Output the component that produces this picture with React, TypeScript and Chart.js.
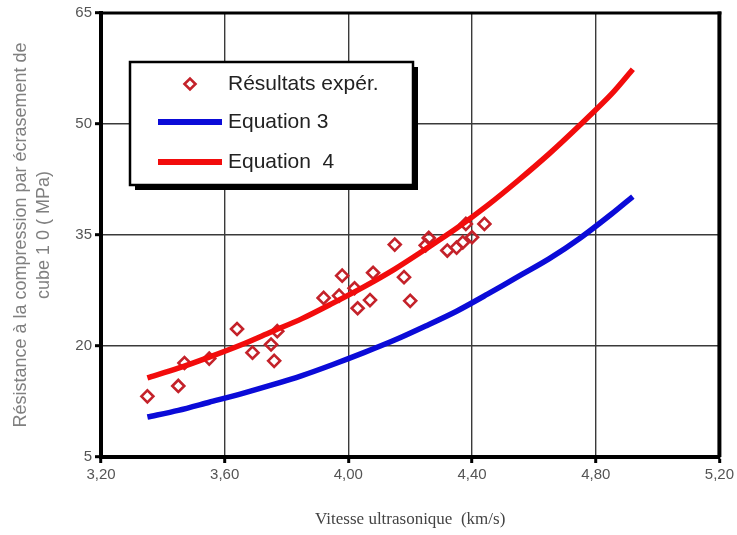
import { useEffect, useRef } from 'react';
import { Chart, registerables } from 'chart.js';

Chart.register(...registerables);

// Experimental results (km/s, MPa)
const expX = [3.35, 3.45, 3.47, 3.55, 3.64, 3.69, 3.76, 3.75, 3.77, 3.92, 3.97, 3.98, 4.02, 4.03, 4.07, 4.08, 4.15, 4.18, 4.2, 4.25, 4.26, 4.32, 4.35, 4.37, 4.4, 4.38, 4.44];
const expY = [13.2, 14.6, 17.7, 18.3, 22.3, 19.1, 18.0, 20.2, 22.0, 26.5, 26.8, 29.5, 27.8, 25.1, 26.2, 29.9, 33.7, 29.3, 26.1, 33.6, 34.6, 32.9, 33.3, 34.0, 34.7, 36.5, 36.5];

// Fitted curves
const eqX = [3.35, 3.45, 3.55, 3.65, 3.75, 3.85, 3.95, 4.05, 4.15, 4.25, 4.35, 4.45, 4.55, 4.65, 4.75, 4.85, 4.92];
const eq3Y = [10.4, 11.3, 12.4, 13.5, 14.7, 16.0, 17.5, 19.1, 20.8, 22.7, 24.7, 27.0, 29.4, 31.8, 34.6, 37.8, 40.2];
const eq4Y = [15.7, 17.0, 18.5, 20.1, 21.9, 23.7, 25.8, 28.0, 30.4, 33.1, 35.9, 39.0, 42.4, 46.0, 49.9, 54.0, 57.4];

const xTicks = [3.2, 3.6, 4.0, 4.4, 4.8, 5.2];
const yTicks = [5, 20, 35, 50, 65];

const seriesLabels = ['Résultats expér.', 'Equation 3', 'Equation  4'];
const xTitle = 'Vitesse ultrasonique  (km/s)';
const yTitle = ['Résistance à la compression par écrasement de', 'cube 1 0 ( MPa)'];

const framePlugin = {
  id: 'frame',
  beforeDatasetsDraw(chart: any) {
    const { ctx, chartArea } = chart;
    const { left, right, top, bottom } = chartArea;
    ctx.save();
    ctx.strokeStyle = '#000';
    ctx.lineWidth = 3;
    ctx.beginPath();
    ctx.moveTo(left, top);
    ctx.lineTo(right + 2, top);
    ctx.stroke();
    ctx.lineWidth = 4;
    ctx.beginPath();
    ctx.moveTo(right, top - 1.5);
    ctx.lineTo(right, bottom);
    ctx.stroke();
    ctx.restore();
  },
};

const boxLegendPlugin = {
  id: 'boxLegend',
  afterDraw(chart: any) {
    const { ctx, chartArea } = chart;
    const x = chartArea.left + 29;
    const y = chartArea.top + 49;
    const w = 283;
    const h = 123;
    ctx.save();
    ctx.fillStyle = '#000';
    ctx.fillRect(x + 5, y + 5, w, h);
    ctx.fillStyle = '#fff';
    ctx.fillRect(x, y, w, h);
    ctx.lineWidth = 2.5;
    ctx.strokeStyle = '#000';
    ctx.strokeRect(x, y, w, h);
    const rows = [22, 60, 100];
    chart.data.datasets.forEach((ds: any, i: number) => {
      const cy = y + rows[i];
      if (ds.showLine === false) {
        const cx = x + 60;
        const r = 5.5;
        ctx.beginPath();
        ctx.moveTo(cx - r, cy);
        ctx.lineTo(cx, cy - r);
        ctx.lineTo(cx + r, cy);
        ctx.lineTo(cx, cy + r);
        ctx.closePath();
        ctx.lineWidth = 2.6;
        ctx.strokeStyle = ds.borderColor;
        ctx.stroke();
      } else {
        ctx.beginPath();
        ctx.moveTo(x + 28, cy);
        ctx.lineTo(x + 92, cy);
        ctx.lineWidth = 6;
        ctx.strokeStyle = ds.borderColor;
        ctx.stroke();
      }
      ctx.fillStyle = '#222';
      ctx.font = '21px "Liberation Sans", Arial, sans-serif';
      ctx.textBaseline = 'middle';
      ctx.textAlign = 'left';
      ctx.fillText(ds.label, x + 98, cy);
    });
    ctx.restore();
  },
};

export default function App() {
  const canvasRef = useRef<HTMLCanvasElement | null>(null);

  useEffect(() => {
    document.body.style.margin = '0';
    const canvas = canvasRef.current;
    if (!canvas) return;
    const fmt = (v: number) => (Math.round(v * 100) / 100).toFixed(2).replace('.', ',');
    const chart = new Chart(canvas, {
      type: 'scatter',
      data: {
        datasets: [
          {
            label: seriesLabels[0],
            data: expX.map((v, i) => ({ x: v, y: expY[i] })),
            showLine: false,
            pointStyle: 'rectRot',
            pointRadius: 6,
            pointBorderWidth: 2.6,
            borderColor: '#c4222a',
            backgroundColor: 'rgba(0,0,0,0)',
            order: 3,
          },
          {
            label: seriesLabels[1],
            data: eqX.map((v, i) => ({ x: v, y: eq3Y[i] })),
            showLine: true,
            pointRadius: 0,
            borderColor: '#0b0bd8',
            backgroundColor: '#0b0bd8',
            borderWidth: 5.5,
            tension: 0.3,
            order: 2,
          },
          {
            label: seriesLabels[2],
            data: eqX.map((v, i) => ({ x: v, y: eq4Y[i] })),
            showLine: true,
            pointRadius: 0,
            borderColor: '#f20c0c',
            backgroundColor: '#f20c0c',
            borderWidth: 5.5,
            tension: 0.3,
            order: 1,
          },
        ] as any,
      },
      options: {
        animation: false,
        responsive: true,
        maintainAspectRatio: false,
        devicePixelRatio: 1,
        layout: { padding: { top: 13, right: 16, left: 0, bottom: 0 } },
        plugins: {
          legend: { display: false },
          tooltip: { enabled: false },
        },
        scales: {
          x: {
            type: 'linear',
            min: 3.2,
            max: 5.2,
            afterFit: (s: any) => {
              s.height = 78;
            },
            afterBuildTicks: (s: any) => {
              s.ticks = xTicks.map((v) => ({ value: v }));
            },
            ticks: {
              color: '#555',
              font: { family: '"Liberation Sans", Arial, sans-serif', size: 15 },
              padding: 3,
              maxRotation: 0,
              callback: (v: any) => fmt(Number(v)),
            },
            grid: {
              color: '#3a3a3a',
              lineWidth: 1.4,
              tickLength: 6,
              tickWidth: 3,
              tickColor: '#000',
            },
            border: { display: true, color: '#000', width: 4 },
            title: {
              display: true,
              text: xTitle,
              color: '#444',
              font: { family: '"Liberation Serif", "Times New Roman", serif', size: 17, lineHeight: 1.2 },
              padding: { top: 0, bottom: 5 },
            },
          },
          y: {
            type: 'linear',
            min: 5,
            max: 65,
            afterFit: (s: any) => {
              s.width = 101;
            },
            afterBuildTicks: (s: any) => {
              s.ticks = yTicks.map((v) => ({ value: v }));
            },
            ticks: {
              color: '#555',
              font: { family: '"Liberation Sans", Arial, sans-serif', size: 15 },
              padding: 3,
              callback: (v: any) => String(v),
            },
            grid: {
              color: '#3a3a3a',
              lineWidth: 1.4,
              tickLength: 6,
              tickWidth: 3,
              tickColor: '#000',
            },
            border: { display: true, color: '#000', width: 4 },
            title: {
              display: true,
              text: yTitle,
              color: '#808080',
              font: { family: '"Liberation Sans", Arial, sans-serif', size: 18, lineHeight: 1.25 },
              padding: { top: 10, bottom: 0 },
            },
          },
        },
      } as any,
      plugins: [framePlugin, boxLegendPlugin],
    });
    return () => chart.destroy();
  }, []);

  return (
    <div style={{ position: 'absolute', left: 0, top: 0, width: 737, height: 535, background: '#fff' }}>
      <canvas ref={canvasRef} />
    </div>
  );
}
